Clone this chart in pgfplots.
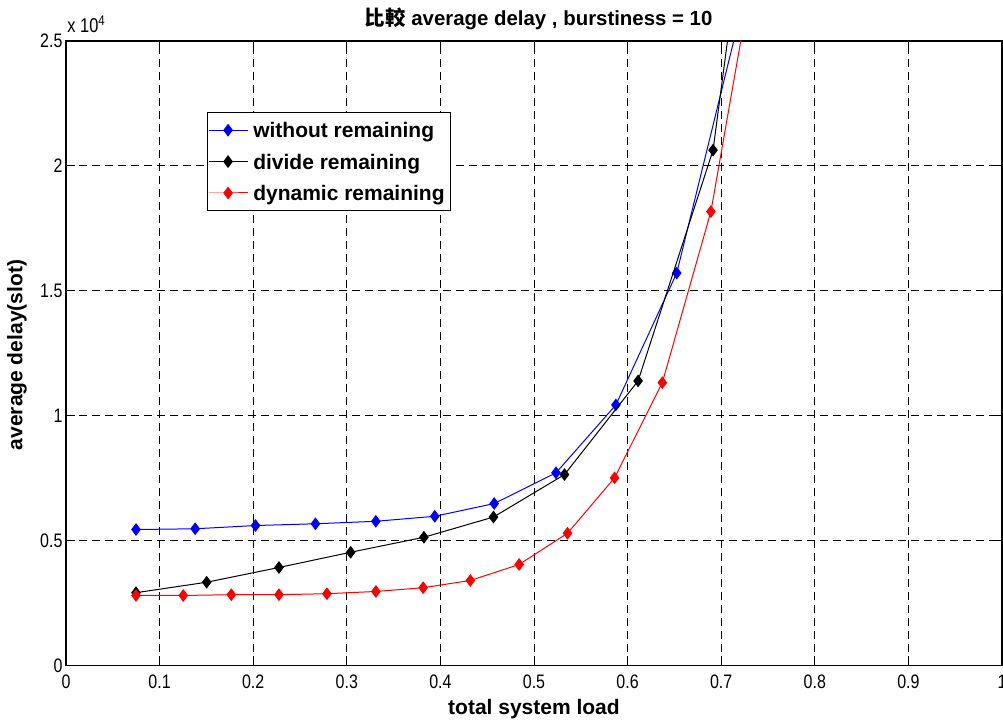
\documentclass[border=0pt]{standalone}
\usepackage{fontspec}
\setmainfont{Liberation Sans}
\newfontfamily\ticfont[FakeStretch=0.82]{Liberation Sans}
\newfontfamily\cjk{Noto Sans CJK TC}
\usepackage{pgfplots}
\pgfplotsset{compat=1.18}

\pgfplotstableread{
x y
0.0748 5440
0.1380 5470
0.2025 5600
0.2665 5670
0.3310 5770
0.3940 5970
0.4575 6480
0.5235 7710
0.5875 10430
0.6525 15710
0.7160 25400
}\tabWithout

\pgfplotstableread{
x y
0.0748 2910
0.1503 3330
0.2275 3920
0.3041 4530
0.3824 5130
0.4567 5940
0.5326 7640
0.6112 11390
0.6913 20630
0.7680 42400
}\tabDivide

\pgfplotstableread{
x y
0.0748 2800
0.1253 2800
0.1766 2830
0.2275 2830
0.2788 2870
0.3311 2960
0.3816 3110
0.4320 3400
0.4841 4040
0.5358 5290
0.5861 7510
0.6371 11320
0.6890 18170
0.7405 29200
}\tabDynamic

\begin{document}
\begin{tikzpicture}
\begin{axis}[
  scale only axis,
  width=468pt, height=312.2pt,
  xmin=0, xmax=1, ymin=0, ymax=25000,
  xtick={0,0.1,0.2,0.3,0.4,0.5,0.6,0.7,0.8,0.9,1},
  xticklabels={0,0.1,0.2,0.3,0.4,0.5,0.6,0.7,0.8,0.9,1},
  ytick={0,5000,10000,15000,20000,25000},
  yticklabels={0,0.5,1,1.5,2,2.5},
  scaled y ticks=false,
  tick align=inside,
  major tick length=4.5pt,
  tick style={black, line width=0.5pt},
  grid=major,
  major grid style={black, line width=0.5pt, dash pattern=on 4pt off 2.5pt},
  axis line style={black, line width=0.75pt},
  /pgf/number format/assume math mode=true,
  tick label style={font=\ticfont\fontsize{9.75}{11}\selectfont},
  xticklabel style={yshift=-1.25pt},
  yticklabel style={xshift=1.75pt},
  label style={font=\bfseries\fontsize{10.5}{12}\selectfont},
  xlabel={total system load},
  xlabel style={at={(axis description cs:0.5,0)}, anchor=base, yshift=-24.4pt},
  ylabel={average delay(slot)},
  ylabel style={at={(axis description cs:-0.0524,0.497)}, anchor=center},
  clip marker paths=true,
  legend cell align=left,
  legend style={at={(rel axis cs:0.1506,0.8863)}, anchor=north west,
    draw=black, line width=0.5pt, fill=white,
    font=\bfseries\fontsize{10.5}{12}\selectfont,
    nodes={text height=9pt, text depth=1.5pt, inner sep=2.6pt},
    row sep=0pt, inner xsep=0.3pt, inner ysep=1pt},
  legend image code/.code={\draw[mark repeat=2,mark phase=2,#1] plot coordinates {(0pt,0pt) (9.75pt,0pt) (19.5pt,0pt)};},
  every axis plot/.append style={line width=0.5pt, mark=diamond*, mark size=2.8pt},
]
\coordinate (sw) at (rel axis cs:0,0);
\coordinate (ne) at (rel axis cs:1,1);
\addplot[blue, mark options={fill=blue, draw=blue}] table {\tabWithout};
\addlegendentry{without remaining}
\addplot[black, mark options={fill=black, draw=black}] table {\tabDivide};
\addlegendentry{divide remaining}
\addplot[red, mark options={fill=red, draw=red}] table {\tabDynamic};
\addlegendentry{dynamic remaining}
\end{axis}
\node[anchor=base west, inner sep=0pt, font=\ticfont\fontsize{10}{11}\selectfont] at ([xshift=0.5pt, yshift=4pt]sw |- ne) {x 10\textsuperscript{4}};
\path (sw) -- (ne) coordinate[pos=0.505] (mid);
\node[anchor=base, inner sep=0pt, font=\bfseries\fontsize{10.2}{12}\selectfont] at ([yshift=7.5pt]mid |- ne) {{\cjk\bfseries 比較} average delay , burstiness = 10};
\pgfresetboundingbox
\path ([xshift=-33pt, yshift=-28.35pt]sw) rectangle ([xshift=0.5pt, yshift=20.5pt]ne);
\end{tikzpicture}
\end{document}
